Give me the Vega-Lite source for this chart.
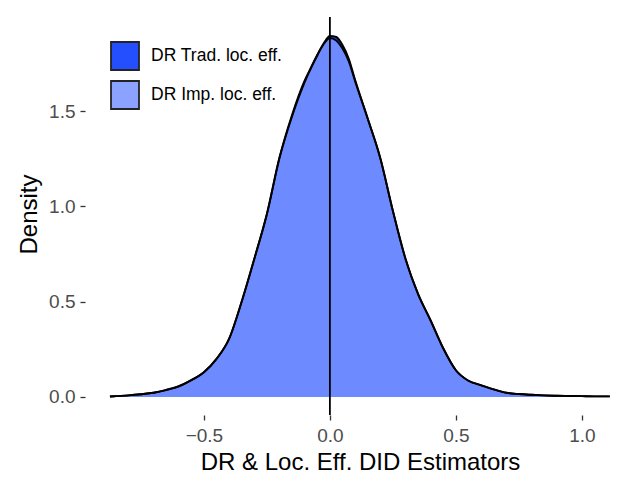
{
  "$schema": "https://vega.github.io/schema/vega-lite/v6.json",
  "width": 550,
  "height": 398,
  "autosize": {"type": "none"},
  "padding": {"left": 85, "top": 17, "right": 6, "bottom": 67},
  "background": "white",
  "config": {
    "view": {"stroke": null},
    "font": "Liberation Sans",
    "axis": {
      "domain": false,
      "grid": false,
      "tickColor": "#333333",
      "tickWidth": 1.3,
      "tickSize": 5,
      "labelColor": "#4D4D4D",
      "labelFont": "Liberation Sans",
      "labelFontSize": 19,
      "titleFont": "Liberation Sans",
      "titleFontSize": 24,
      "titleFontWeight": "normal",
      "titleColor": "black"
    },
    "legend": {
      "symbolStrokeColor": "black",
      "symbolStrokeWidth": 1.8
    }
  },
  "datasets": {
    "dens": [
      {"series": "DR Trad. loc. eff.", "x": -0.873, "density": 0.002},
      {"series": "DR Trad. loc. eff.", "x": -0.85, "density": 0.004},
      {"series": "DR Trad. loc. eff.", "x": -0.8, "density": 0.008},
      {"series": "DR Trad. loc. eff.", "x": -0.75, "density": 0.014},
      {"series": "DR Trad. loc. eff.", "x": -0.7, "density": 0.022},
      {"series": "DR Trad. loc. eff.", "x": -0.65, "density": 0.036},
      {"series": "DR Trad. loc. eff.", "x": -0.6, "density": 0.055},
      {"series": "DR Trad. loc. eff.", "x": -0.55, "density": 0.088},
      {"series": "DR Trad. loc. eff.", "x": -0.5, "density": 0.13},
      {"series": "DR Trad. loc. eff.", "x": -0.45, "density": 0.2},
      {"series": "DR Trad. loc. eff.", "x": -0.4, "density": 0.306},
      {"series": "DR Trad. loc. eff.", "x": -0.35, "density": 0.502},
      {"series": "DR Trad. loc. eff.", "x": -0.3, "density": 0.726},
      {"series": "DR Trad. loc. eff.", "x": -0.25, "density": 0.962},
      {"series": "DR Trad. loc. eff.", "x": -0.2, "density": 1.258},
      {"series": "DR Trad. loc. eff.", "x": -0.15, "density": 1.482},
      {"series": "DR Trad. loc. eff.", "x": -0.1, "density": 1.662},
      {"series": "DR Trad. loc. eff.", "x": -0.075, "density": 1.73},
      {"series": "DR Trad. loc. eff.", "x": -0.05, "density": 1.797},
      {"series": "DR Trad. loc. eff.", "x": -0.025, "density": 1.856},
      {"series": "DR Trad. loc. eff.", "x": 0.0, "density": 1.896},
      {"series": "DR Trad. loc. eff.", "x": 0.025, "density": 1.89},
      {"series": "DR Trad. loc. eff.", "x": 0.05, "density": 1.848},
      {"series": "DR Trad. loc. eff.", "x": 0.075, "density": 1.776},
      {"series": "DR Trad. loc. eff.", "x": 0.1, "density": 1.665},
      {"series": "DR Trad. loc. eff.", "x": 0.15, "density": 1.463},
      {"series": "DR Trad. loc. eff.", "x": 0.2, "density": 1.255},
      {"series": "DR Trad. loc. eff.", "x": 0.25, "density": 0.978},
      {"series": "DR Trad. loc. eff.", "x": 0.3, "density": 0.727},
      {"series": "DR Trad. loc. eff.", "x": 0.35, "density": 0.54},
      {"series": "DR Trad. loc. eff.", "x": 0.4, "density": 0.4},
      {"series": "DR Trad. loc. eff.", "x": 0.45, "density": 0.254},
      {"series": "DR Trad. loc. eff.", "x": 0.5, "density": 0.14},
      {"series": "DR Trad. loc. eff.", "x": 0.55, "density": 0.085},
      {"series": "DR Trad. loc. eff.", "x": 0.6, "density": 0.061},
      {"series": "DR Trad. loc. eff.", "x": 0.65, "density": 0.04},
      {"series": "DR Trad. loc. eff.", "x": 0.7, "density": 0.022},
      {"series": "DR Trad. loc. eff.", "x": 0.75, "density": 0.015},
      {"series": "DR Trad. loc. eff.", "x": 0.8, "density": 0.011},
      {"series": "DR Trad. loc. eff.", "x": 0.85, "density": 0.008},
      {"series": "DR Trad. loc. eff.", "x": 0.9, "density": 0.006},
      {"series": "DR Trad. loc. eff.", "x": 0.95, "density": 0.005},
      {"series": "DR Trad. loc. eff.", "x": 1.0, "density": 0.004},
      {"series": "DR Trad. loc. eff.", "x": 1.05, "density": 0.003},
      {"series": "DR Trad. loc. eff.", "x": 1.111, "density": 0.003},
      {"series": "DR Imp. loc. eff.", "x": -0.873, "density": 0.002},
      {"series": "DR Imp. loc. eff.", "x": -0.85, "density": 0.004},
      {"series": "DR Imp. loc. eff.", "x": -0.8, "density": 0.008},
      {"series": "DR Imp. loc. eff.", "x": -0.75, "density": 0.014},
      {"series": "DR Imp. loc. eff.", "x": -0.7, "density": 0.022},
      {"series": "DR Imp. loc. eff.", "x": -0.65, "density": 0.037},
      {"series": "DR Imp. loc. eff.", "x": -0.6, "density": 0.056},
      {"series": "DR Imp. loc. eff.", "x": -0.55, "density": 0.088},
      {"series": "DR Imp. loc. eff.", "x": -0.5, "density": 0.13},
      {"series": "DR Imp. loc. eff.", "x": -0.45, "density": 0.2},
      {"series": "DR Imp. loc. eff.", "x": -0.4, "density": 0.305},
      {"series": "DR Imp. loc. eff.", "x": -0.35, "density": 0.5},
      {"series": "DR Imp. loc. eff.", "x": -0.3, "density": 0.724},
      {"series": "DR Imp. loc. eff.", "x": -0.25, "density": 0.959},
      {"series": "DR Imp. loc. eff.", "x": -0.2, "density": 1.254},
      {"series": "DR Imp. loc. eff.", "x": -0.15, "density": 1.474},
      {"series": "DR Imp. loc. eff.", "x": -0.1, "density": 1.653},
      {"series": "DR Imp. loc. eff.", "x": -0.075, "density": 1.727},
      {"series": "DR Imp. loc. eff.", "x": -0.05, "density": 1.793},
      {"series": "DR Imp. loc. eff.", "x": -0.025, "density": 1.852},
      {"series": "DR Imp. loc. eff.", "x": 0.0, "density": 1.885},
      {"series": "DR Imp. loc. eff.", "x": 0.025, "density": 1.872},
      {"series": "DR Imp. loc. eff.", "x": 0.05, "density": 1.829},
      {"series": "DR Imp. loc. eff.", "x": 0.075, "density": 1.762},
      {"series": "DR Imp. loc. eff.", "x": 0.1, "density": 1.658},
      {"series": "DR Imp. loc. eff.", "x": 0.15, "density": 1.461},
      {"series": "DR Imp. loc. eff.", "x": 0.2, "density": 1.253},
      {"series": "DR Imp. loc. eff.", "x": 0.25, "density": 0.976},
      {"series": "DR Imp. loc. eff.", "x": 0.3, "density": 0.724},
      {"series": "DR Imp. loc. eff.", "x": 0.35, "density": 0.541},
      {"series": "DR Imp. loc. eff.", "x": 0.4, "density": 0.402},
      {"series": "DR Imp. loc. eff.", "x": 0.45, "density": 0.256},
      {"series": "DR Imp. loc. eff.", "x": 0.5, "density": 0.14},
      {"series": "DR Imp. loc. eff.", "x": 0.55, "density": 0.085},
      {"series": "DR Imp. loc. eff.", "x": 0.6, "density": 0.062},
      {"series": "DR Imp. loc. eff.", "x": 0.65, "density": 0.04},
      {"series": "DR Imp. loc. eff.", "x": 0.7, "density": 0.022},
      {"series": "DR Imp. loc. eff.", "x": 0.75, "density": 0.015},
      {"series": "DR Imp. loc. eff.", "x": 0.8, "density": 0.011},
      {"series": "DR Imp. loc. eff.", "x": 0.85, "density": 0.008},
      {"series": "DR Imp. loc. eff.", "x": 0.9, "density": 0.006},
      {"series": "DR Imp. loc. eff.", "x": 0.95, "density": 0.005},
      {"series": "DR Imp. loc. eff.", "x": 1.0, "density": 0.004},
      {"series": "DR Imp. loc. eff.", "x": 1.05, "density": 0.003},
      {"series": "DR Imp. loc. eff.", "x": 1.111, "density": 0.003}
    ],
    "vline": [{"x": 0}]
  },
  "layer": [
    {
      "data": {"name": "dens"},
      "mark": {"type": "area", "interpolate": "monotone", "opacity": 0.86},
      "encoding": {
        "x": {
          "field": "x", "type": "quantitative",
          "scale": {"domain": [-0.972, 1.211], "nice": false, "zero": false},
          "axis": {
            "title": "DR & Loc. Eff. DID Estimators",
            "values": [-0.5, 0, 0.5, 1],
            "format": ".1f",
            "labelBaseline": "alphabetic",
            "labelPadding": 21,
            "titleBaseline": "alphabetic",
            "titleY": 54.5
          }
        },
        "y": {
          "field": "density", "type": "quantitative", "stack": null,
          "scale": {"domain": [-0.095, 1.995], "nice": false, "zero": false},
          "axis": {
            "title": "Density",
            "values": [0, 0.5, 1, 1.5],
            "format": ".1f",
            "labelPadding": 5,
            "titleBaseline": "alphabetic",
            "titleX": -49,
            "titleY": 197
          }
        },
        "y2": {"datum": 0},
        "color": {
          "field": "series", "type": "nominal",
          "scale": {"domain": ["DR Trad. loc. eff.", "DR Imp. loc. eff."], "range": ["#0033FF", "#7994FF"]},
          "legend": {
            "title": null,
            "orient": "none",
            "legendX": 25,
            "legendY": 24,
            "padding": 0,
            "symbolType": "square",
            "symbolSize": 784,
            "symbolStrokeColor": "black",
            "symbolStrokeWidth": 1.8,
            "rowPadding": 3,
            "labelOffset": 11,
            "labelFontSize": 17.5,
            "labelColor": "black",
            "labelFont": "Liberation Sans",
            "encode": {"symbols": {
              "enter": {"stroke": {"value": "black"}, "strokeWidth": {"value": 1.8}, "strokeOpacity": {"value": 1}},
              "update": {"stroke": {"value": "black"}, "strokeWidth": {"value": 1.8}, "strokeOpacity": {"value": 1}}
            }}
          }
        },
        "order": {"field": "series", "sort": "descending"}
      }
    },
    {
      "data": {"name": "dens"},
      "mark": {"type": "line", "interpolate": "monotone", "color": "black", "strokeWidth": 1.9},
      "encoding": {
        "x": {"field": "x", "type": "quantitative"},
        "y": {"field": "density", "type": "quantitative"},
        "detail": {"field": "series"}
      }
    },
    {
      "data": {"name": "vline"},
      "mark": {"type": "rule", "color": "black", "strokeWidth": 1.8},
      "encoding": {
        "x": {"field": "x", "type": "quantitative"}
      }
    }
  ]
}
